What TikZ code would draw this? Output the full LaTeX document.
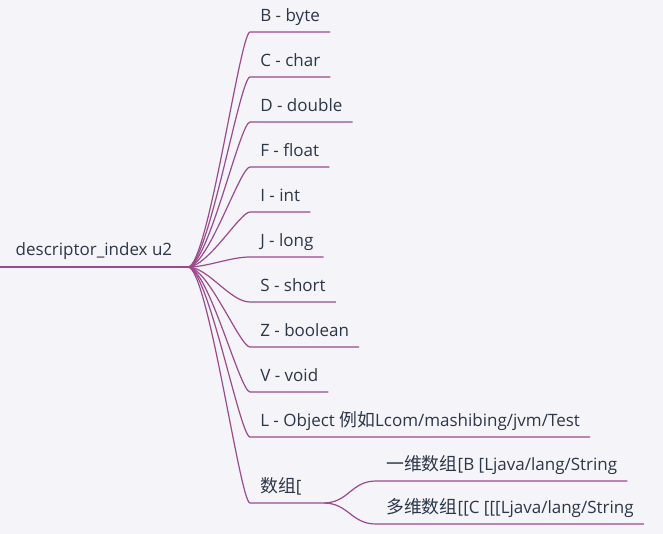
\documentclass[tikz,border=0pt]{standalone}
\usepackage{fontspec}
\setmainfont{Open Sans}
\newfontfamily\cjk[Scale=1.05]{Noto Sans CJK SC}
\usepackage{tikz}
\usetikzlibrary{positioning, calc, backgrounds}
\definecolor{branch}{HTML}{9B4A8C}
\definecolor{ink}{HTML}{2B3648}
\definecolor{paper}{HTML}{F5F5F9}

\begin{document}
\begin{tikzpicture}[
        x=0.75pt, y=-0.75pt,
        font=\fontsize{12.75}{15}\selectfont,
        topic/.style = {anchor=south west, text=ink, inner xsep=11.6pt, inner ysep=8.25pt, text depth=0pt},
        leaf/.style = {anchor=south west, text=ink, inner xsep=7.5pt, inner ysep=7.5pt, text depth=0pt},
        trunk/.style = {draw=branch, line width=1.9pt},
        link/.style = {draw=branch, line width=0.9pt}
    ]
    
    % Canvas
    \fill[paper] (0,0) rectangle (663,534);
    \useasboundingbox (0,0) rectangle (663,534);
    
    % Root
    \node [topic] (root) at (0,267) {descriptor\_index u2};
    
    % Nodes
    \node [leaf] (byte) at (250,32) {B - byte};
    \node [leaf] (char) at (250,77) {C - char};
    \node [leaf] (double) at (250,122) {D - double};
    \node [leaf] (float) at (250,167) {F - float};
    \node [leaf] (int) at (250,212) {I - int};
    \node [leaf] (long) at (250,257) {J - long};
    \node [leaf] (short) at (250,302) {S - short};
    \node [leaf] (boolean) at (250,347) {Z - boolean};
    \node [leaf] (void) at (250,392) {V - void};
    \node [leaf] (object) at (250,437) {L - Object {\cjk 例如}Lcom/mashibing/jvm/Test};
    \node [leaf, text width=39.75pt, align=left] (array) at (250,503) {{\cjk 数组}[};
    
    % Array kinds
    \node [leaf] (dimone) at (376,481) {{\cjk 一维数组}[B [Ljava/lang/String};
    \node [leaf] (dimmany) at (376,524) {{\cjk 多维数组}[[C [[[Ljava/lang/String};
    
    % Edges
    \path [trunk] (root.south west) -- (root.south east);
    \path [link] (root.south east) .. controls +(20,0) and +(-10,0) .. (byte.south west) -- (byte.south east);
    \path [link] (root.south east) .. controls +(20,0) and +(-10,0) .. (char.south west) -- (char.south east);
    \path [link] (root.south east) .. controls +(20,0) and +(-10,0) .. (double.south west) -- (double.south east);
    \path [link] (root.south east) .. controls +(20,0) and +(-10,0) .. (float.south west) -- (float.south east);
    \path [link] (root.south east) .. controls +(20,0) and +(-10,0) .. (int.south west) -- (int.south east);
    \path [link] (root.south east) .. controls +(20,0) and +(-20,0) .. (long.south west) -- (long.south east);
    \path [link] (root.south east) .. controls +(20,0) and +(-20,0) .. (short.south west) -- (short.south east);
    \path [link] (root.south east) .. controls +(20,0) and +(-10,0) .. (boolean.south west) -- (boolean.south east);
    \path [link] (root.south east) .. controls +(20,0) and +(-10,0) .. (void.south west) -- (void.south east);
    \path [link] (root.south east) .. controls +(20,0) and +(-10,0) .. (object.south west) -- (object.south east);
    \path [link] (root.south east) .. controls +(20,0) and +(-10,0) .. (array.south west) -- (array.south east);
    
    \path [link] (array.south east) .. controls +(25,0) and +(-25,0) .. (dimone.south west) -- (dimone.south east);
    \path [link] (array.south east) .. controls +(25,0) and +(-25,0) .. (dimmany.south west) -- (dimmany.south east);
    
\end{tikzpicture}
\end{document}
